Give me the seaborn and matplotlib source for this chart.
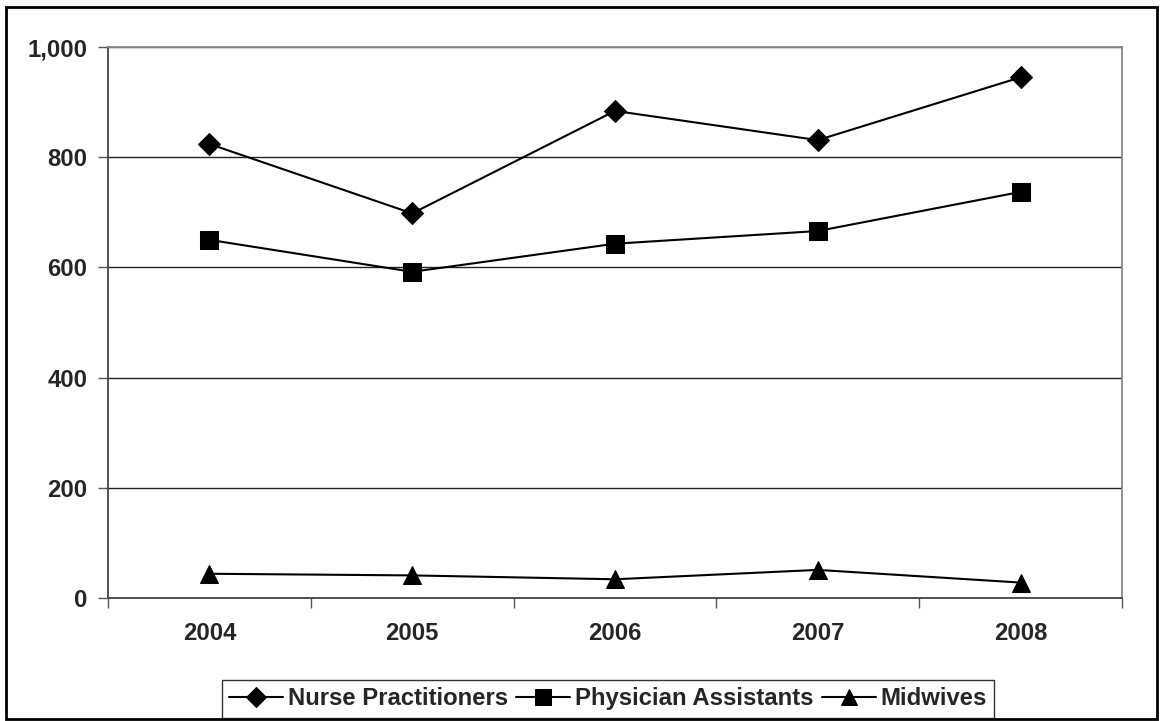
import numpy as np
import pandas as pd
import seaborn as sns
import matplotlib
matplotlib.use('Agg')
from matplotlib import pyplot as plt
from matplotlib.ticker import FuncFormatter, FixedLocator

# data
years = ['2004', '2005', '2006', '2007', '2008']
nurse_practitioners = [824, 698, 884, 831, 945]
physician_assistants = [650, 592, 643, 666, 737]
midwives = [44, 41, 34, 51, 28]
series_names = ['Nurse Practitioners', 'Physician Assistants', 'Midwives']
y_ticks = [0, 200, 400, 600, 800, 1000]

df = pd.DataFrame({
	'year': years * 3,
	'value': nurse_practitioners + physician_assistants + midwives,
	'series': [s for s in series_names for _ in years],
})
df['x'] = df['year'].map({y: i for i, y in enumerate(years)})

sns.set_style('white')
plt.rcParams['font.family'] = ['Liberation Sans', 'DejaVu Sans']
plt.rcParams['font.weight'] = 'bold'

fig = plt.figure(figsize=(11.63, 7.21), dpi=100)
ax = fig.add_axes([108 / 1163, 1 - 598 / 721, 1014 / 1163, 551 / 721])

sns.lineplot(data=df, x='x', y='value', hue='series', style='series',
	palette=['black'] * 3, markers=['D', 's', '^'], dashes=False,
	markersize=13, linewidth=1.5, markeredgecolor='black', ax=ax)

# diamonds come out larger than squares at the same size
for ln in ax.lines:
	if ln.get_marker() == 'D':
		ln.set_markersize(11.5)

ax.set_xlim(-0.5, 4.5)
ax.set_ylim(0, 1000)
ax.set_xlabel('')
ax.set_ylabel('')

# y axis: grid lines and outward ticks
ax.set_yticks(y_ticks)
ax.yaxis.set_major_formatter(FuncFormatter(lambda v, p: f'{int(v):,}'))
ax.grid(axis='y', color='#222222', linewidth=1.0)
ax.set_axisbelow(True)

# x axis: category labels centred, ticks between categories
ax.xaxis.set_major_locator(FixedLocator(np.arange(len(years))))
ax.set_xticklabels(years)
ax.xaxis.set_minor_locator(FixedLocator(np.arange(-0.5, len(years), 1.0)))
ax.tick_params(axis='x', which='major', length=0, pad=17.5, labelsize=17.2)
ax.tick_params(axis='x', which='minor', length=7, width=1, color='#555555', direction='out')
ax.tick_params(axis='y', length=7, width=1, color='#555555', direction='out', pad=8, labelsize=17.2)
ax.xaxis.set_ticks_position('bottom')
ax.yaxis.set_ticks_position('left')

for side in ['left', 'bottom']:
	ax.spines[side].set_color('#444444')
	ax.spines[side].set_linewidth(1.3)
for side in ['top', 'right']:
	ax.spines[side].set_color('#888888')
	ax.spines[side].set_linewidth(1.3)

ax.get_legend().remove()
handles, labels = ax.get_legend_handles_labels()
for h in handles:
	if h.get_marker() == 'D':
		h.set_markersize(11.5)
leg = fig.legend(handles, labels, loc='lower center', bbox_to_anchor=(608 / 1163, 3 / 721),
	ncol=3, frameon=True, fancybox=False, edgecolor='black', fontsize=17.2,
	handlelength=2.25, handletextpad=0.2, columnspacing=0.35, borderpad=0.32,
	borderaxespad=0, markerscale=0.85)
leg.get_frame().set_linewidth(1.0)
for t in leg.get_texts():
	t.set_fontweight('bold')

# outer frame around the whole figure
fig.patches.append(plt.Rectangle((6 / 1163, 2 / 721), 1151 / 1163, 712 / 721,
	transform=fig.transFigure, fill=False, edgecolor='black', linewidth=2))

fig.savefig('out.png', dpi=100)
